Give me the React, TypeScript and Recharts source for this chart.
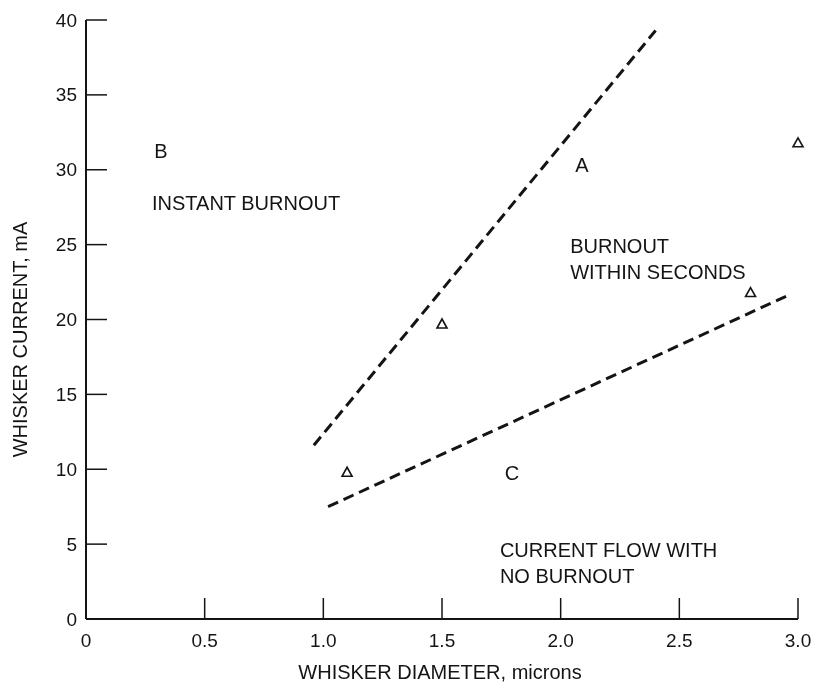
import React from "react";
import {
  ComposedChart,
  Line,
  Scatter,
  XAxis,
  YAxis,
  ReferenceDot,
} from "recharts";

// Boundary lines (dashed)
const upperBoundary = [
  { x: 0.96, y: 11.6 },
  { x: 2.4, y: 39.3 },
];
const lowerBoundary = [
  { x: 1.02, y: 7.5 },
  { x: 2.97, y: 21.7 },
];

// Triangle data points
const testPoints = [
  { x: 1.1, y: 9.8 },
  { x: 1.5, y: 19.7 },
  { x: 2.8, y: 21.8 },
  { x: 3.0, y: 31.8 },
];

// Axis ticks
const xTicks = [0, 0.5, 1.0, 1.5, 2.0, 2.5, 3.0];
const xTickLabels = ["0", "0.5", "1.0", "1.5", "2.0", "2.5", "3.0"];
const yTicks = [0, 5, 10, 15, 20, 25, 30, 35, 40];
const yTickLabels = ["0", "5", "10", "15", "20", "25", "30", "35", "40"];

// Region annotations
const annotations = [
  { text: "B", x: 0.316, y: 31.25, anchor: "middle" },
  { text: "INSTANT BURNOUT", x: 0.278, y: 27.8, anchor: "start" },
  { text: "A", x: 2.09, y: 30.3, anchor: "middle" },
  { text: "BURNOUT", x: 2.04, y: 24.9, anchor: "start" },
  { text: "WITHIN SECONDS", x: 2.04, y: 23.2, anchor: "start" },
  { text: "C", x: 1.795, y: 9.75, anchor: "middle" },
  { text: "CURRENT FLOW WITH", x: 1.744, y: 4.6, anchor: "start" },
  { text: "NO BURNOUT", x: 1.744, y: 2.87, anchor: "start" },
];

const FONT = "'Liberation Sans', Arial, Helvetica, sans-serif";
const INK = "#141414";

const XTick = (props: any) => {
  const { x, y, payload } = props;
  const idx = xTicks.indexOf(payload.value);
  return (
    <g>
      {payload.value !== 0 && (
        <line x1={x} x2={x} y1={y} y2={y - 21} stroke={INK} strokeWidth={1.5} />
      )}
      <text
        x={x}
        y={y + 21}
        textAnchor="middle"
        dominantBaseline="central"
        fontFamily={FONT}
        fontSize={19}
        fill={INK}
      >
        {idx >= 0 ? xTickLabels[idx] : payload.value}
      </text>
    </g>
  );
};

const YTick = (props: any) => {
  const { x, y, payload } = props;
  const idx = yTicks.indexOf(payload.value);
  return (
    <g>
      {payload.value !== 0 && (
        <line x1={x} x2={x + 21} y1={y} y2={y} stroke={INK} strokeWidth={1.5} />
      )}
      <text
        x={x - 9}
        y={y}
        textAnchor="end"
        dominantBaseline="central"
        fontFamily={FONT}
        fontSize={19}
        fill={INK}
      >
        {idx >= 0 ? yTickLabels[idx] : payload.value}
      </text>
    </g>
  );
};

const Triangle = (props: any) => {
  const { cx, cy } = props;
  if (cx == null || cy == null) return null;
  return (
    <path
      d={`M${cx},${cy - 5} L${cx + 5},${cy + 4} L${cx - 5},${cy + 4} Z`}
      fill="#fff"
      stroke={INK}
      strokeWidth={1.6}
    />
  );
};

export default function App() {
  return (
    <div
      style={{
        position: "fixed",
        left: 8,
        top: 8,
        width: 806,
        height: 674,
        background: "#fff",
      }}
    >
      <style>{`svg.recharts-surface { overflow: visible; }`}</style>
      <ComposedChart
        width={806}
        height={674}
        margin={{ top: 12, right: 16, bottom: 0, left: 0 }}
      >
        <XAxis
          type="number"
          dataKey="x"
          domain={[0, 3]}
          ticks={xTicks}
          interval={0}
          tickSize={0}
          tickMargin={0}
          tickLine={false}
          tick={<XTick />}
          height={63}
          axisLine={{ stroke: INK, strokeWidth: 2 }}
          label={{
            content: (p: any) => {
              const vb = p.viewBox || {};
              return (
                <text
                  x={vb.x + vb.width / 2 - 2}
                  y={vb.y + 53}
                  textAnchor="middle"
                  dominantBaseline="central"
                  fontFamily={FONT}
                  fontSize={20}
                  fill={INK}
                >
                  WHISKER DIAMETER, microns
                </text>
              );
            },
          }}
        />
        <YAxis
          type="number"
          dataKey="y"
          domain={[0, 40]}
          ticks={yTicks}
          interval={0}
          tickSize={0}
          tickMargin={0}
          tickLine={false}
          tick={<YTick />}
          width={78}
          axisLine={{ stroke: INK, strokeWidth: 2 }}
          label={{
            content: (p: any) => {
              const vb = p.viewBox || {};
              const cx = vb.x + 12;
              const cy = vb.y + vb.height / 2 + 20;
              return (
                <text
                  x={cx}
                  y={cy}
                  transform={`rotate(-90 ${cx} ${cy})`}
                  textAnchor="middle"
                  dominantBaseline="central"
                  fontFamily={FONT}
                  fontSize={20}
                  fill={INK}
                >
                  WHISKER CURRENT, mA
                </text>
              );
            },
          }}
        />
        <Line
          data={upperBoundary}
          dataKey="y"
          type="linear"
          stroke={INK}
          strokeWidth={3}
          strokeDasharray="11 6"
          dot={false}
          activeDot={false}
          isAnimationActive={false}
        />
        <Line
          data={lowerBoundary}
          dataKey="y"
          type="linear"
          stroke={INK}
          strokeWidth={3}
          strokeDasharray="11 6"
          dot={false}
          activeDot={false}
          isAnimationActive={false}
        />
        <Scatter
          data={testPoints}
          dataKey="y"
          shape={<Triangle />}
          isAnimationActive={false}
        />
        {annotations.map((a) => (
          <ReferenceDot
            key={a.text}
            x={a.x}
            y={a.y}
            r={0}
            ifOverflow="visible"
            shape={(p: any) => (
              <text
                x={p.cx}
                y={p.cy}
                textAnchor={a.anchor as any}
                dominantBaseline="central"
                fontFamily={FONT}
                fontSize={20}
                fill={INK}
              >
                {a.text}
              </text>
            )}
          />
        ))}
      </ComposedChart>
    </div>
  );
}
